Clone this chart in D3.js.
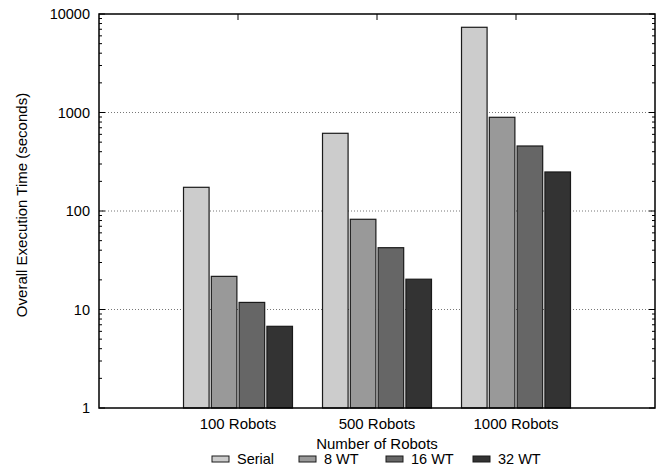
<!DOCTYPE html>
<html>
<head>
<meta charset="utf-8">
<script src="https://cdn.jsdelivr.net/npm/d3@7"></script>
<style>
  body { margin: 0; background: #fff; }
  text { font-family: "Liberation Sans", Arial, sans-serif; font-size: 14.5px; fill: #000; }
  .title { font-size: 15px; }
</style>
</head>
<body>
<svg id="chart" width="660" height="468"></svg>
<script>
// data
const categories = ["100 Robots", "500 Robots", "1000 Robots"];
const seriesNames = ["Serial", "8 WT", "16 WT", "32 WT"];
const serial = [174, 615, 7330];
const wt8 = [21.7, 82.4, 894];
const wt16 = [11.8, 42.4, 457];
const wt32 = [6.75, 20.3, 249];
const yTicks = [1, 10, 100, 1000, 10000];
const gridTicks = [10, 100, 1000];

const seriesValues = [serial, wt8, wt16, wt32];
const colors = ["#cccccc", "#999999", "#666666", "#333333"];

const svg = d3.select("#chart");
const pL = 99, pR = 655, pT = 14, pB = 408;

// gnuplot style histogram: categories at 0,1,2, range -1..3
const x = d3.scaleLinear().domain([-1, 3]).range([pL, pR]);
const y = d3.scaleLog().domain([1, 10000]).range([pB, pT]);
const slot = 0.2; // width of one bar slot in x units

// grid
svg.append("g").selectAll("line").data(gridTicks).join("line")
  .attr("x1", pL).attr("x2", pR)
  .attr("y1", d => y(d)).attr("y2", d => y(d))
  .attr("stroke", "#777").attr("stroke-width", 1)
  .attr("stroke-dasharray", "1,2");

// bars
const bars = [];
seriesValues.forEach((vals, s) => {
  vals.forEach((v, c) => bars.push({ s: s, c: c, v: v }));
});
const bw = x(slot * 0.92) - x(0);
svg.append("g").selectAll("rect").data(bars).join("rect")
  .attr("x", d => x(d.c + (d.s - 1.5) * slot) - bw / 2)
  .attr("width", bw)
  .attr("y", d => y(d.v))
  .attr("height", d => pB - y(d.v))
  .attr("fill", d => colors[d.s])
  .attr("stroke", "#1a1a1a").attr("stroke-width", 1.2);

// minor and major ticks on left and right
const minor = [];
for (let dec = 1; dec < 10000; dec *= 10) {
  for (let k = 2; k <= 9; k++) minor.push(dec * k);
}
const tickG = svg.append("g").attr("stroke", "#000").attr("stroke-width", 1);
tickG.selectAll(".ml").data(minor).join("line")
  .attr("x1", pL).attr("x2", pL + 3)
  .attr("y1", d => y(d)).attr("y2", d => y(d));
tickG.selectAll(".mr").data(minor).join("line")
  .attr("x1", pR).attr("x2", pR - 3)
  .attr("y1", d => y(d)).attr("y2", d => y(d));
tickG.selectAll(".jl").data(yTicks).join("line")
  .attr("x1", pL).attr("x2", pL + 6)
  .attr("y1", d => y(d)).attr("y2", d => y(d));
tickG.selectAll(".jr").data(yTicks).join("line")
  .attr("x1", pR).attr("x2", pR - 6)
  .attr("y1", d => y(d)).attr("y2", d => y(d));
tickG.selectAll(".tt").data(categories).join("line")
  .attr("x1", (d, i) => x(i)).attr("x2", (d, i) => x(i))
  .attr("y1", pT).attr("y2", pT + 6);

// frame
svg.append("rect")
  .attr("x", pL).attr("y", pT)
  .attr("width", pR - pL).attr("height", pB - pT)
  .attr("fill", "none").attr("stroke", "#000").attr("stroke-width", 1.5);

// y tick labels
svg.append("g").selectAll("text").data(yTicks).join("text")
  .attr("x", pL - 9).attr("y", d => y(d) + 5)
  .attr("text-anchor", "end")
  .text(d => d);

// category labels
svg.append("g").selectAll("text").data(categories).join("text")
  .attr("class", "title")
  .attr("x", (d, i) => x(i)).attr("y", 429)
  .attr("text-anchor", "middle")
  .text(d => d);

// axis titles
svg.append("text")
  .attr("class", "title")
  .attr("x", x(1)).attr("y", 449)
  .attr("text-anchor", "middle")
  .text("Number of Robots");
svg.append("text")
  .attr("class", "title")
  .attr("transform", "translate(27,205) rotate(-90)")
  .attr("text-anchor", "middle")
  .text("Overall Execution Time (seconds)");

// legend
const leg = svg.append("g").selectAll("g").data(seriesNames).join("g")
  .attr("transform", (d, i) => "translate(" + (212 + i * 87) + ",456)");
leg.append("rect")
  .attr("width", 17).attr("height", 6)
  .attr("fill", (d, i) => colors[i])
  .attr("stroke", "#1a1a1a").attr("stroke-width", 1);
leg.append("text")
  .attr("x", 25).attr("y", 8)
  .text(d => d);
</script>
</body>
</html>
